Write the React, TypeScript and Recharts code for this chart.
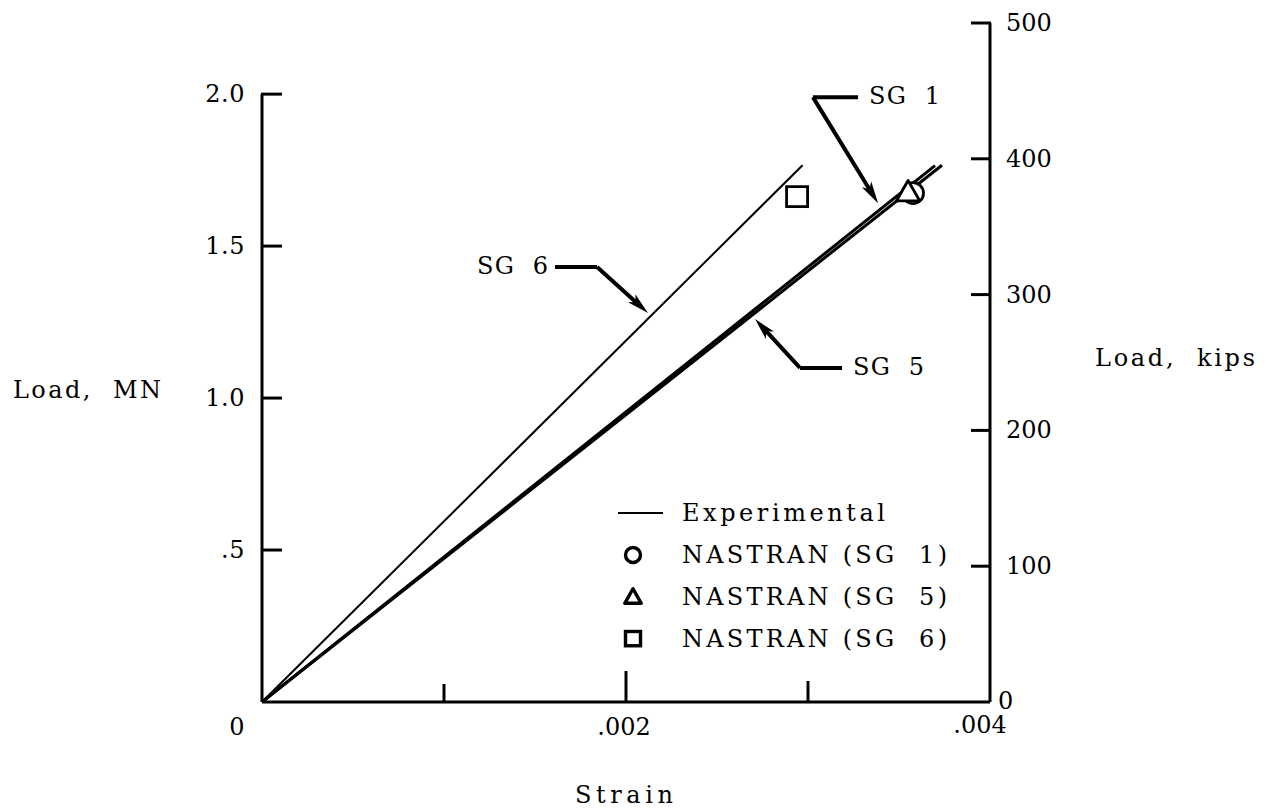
import React from 'react';
import { ComposedChart, Line, Scatter, XAxis, YAxis, ReferenceLine, Legend } from 'recharts';

const FONT = '"DejaVu Serif", "Liberation Serif", serif';
const INK = '#000';

// experimental strain gauge readings (strain, load in MN)
const sg1Strain = [0, 0.003736];
const sg1Load = [0, 1.766];
const sg5Strain = [0, 0.003698];
const sg5Load = [0, 1.7645];
const sg6Strain = [0, 0.00297];
const sg6Load = [0, 1.766];

// NASTRAN predictions
const nastranStrain = [0.003577, 0.00355, 0.00294];
const nastranLoad = [1.674, 1.678, 1.661];
const nastranNames = ['NASTRAN (SG 1)', 'NASTRAN (SG 5)', 'NASTRAN (SG 6)'];

// axes
const strainTicks = [0, 0.001, 0.002, 0.003, 0.004];
const strainTickText = ['0', '', '.002', '', '.004'];
const mnTicks = [0.5, 1.0, 1.5, 2.0];
const mnTickText = ['.5', '1.0', '1.5', '2.0'];
const kipsTicks = [0, 100, 200, 300, 400, 500];

// callouts: label, text end, corner, arrow tip (strain, MN)
const calloutLabels = ['SG 1', 'SG 6', 'SG 5'];
const calloutEnd = [[0.003275, 1.99], [0.00161, 1.431], [0.003187, 1.099]];
const calloutCorner = [[0.003027, 1.99], [0.001841, 1.431], [0.002956, 1.099]];
const calloutTip = [[0.003385, 1.641], [0.002121, 1.28], [0.002709, 1.26]];

const toRows = (xs: number[], ys: number[]) => xs.map((x, i) => ({ strain: x, load: ys[i] }));

const sg1Data = toRows(sg1Strain, sg1Load);
const sg5Data = toRows(sg5Strain, sg5Load);
const sg6Data = toRows(sg6Strain, sg6Load);
const nastranData = nastranStrain.map((x, i) => [{ strain: x, load: nastranLoad[i] }]);

const txt = { fontFamily: FONT, fontSize: 24, fill: INK } as const;

const XTick = (props: any) => {
  const { x, y, payload } = props;
  const i = strainTicks.indexOf(payload.value);
  const len = [0, 18, 31, 21, 0][i] ?? 0;
  const dx = [-25, 0, -2, 0, -10][i] ?? 0;
  return (
    <g>
      {len > 0 && <line x1={x} y1={y} x2={x} y2={y - len} stroke={INK} strokeWidth={3} />}
      {strainTickText[i] && (
        <text x={x + dx} y={y + (i === 4 ? 23 : 25)} textAnchor="middle" dominantBaseline="central" {...txt}>
          {strainTickText[i]}
        </text>
      )}
    </g>
  );
};

const MnTick = (props: any) => {
  const { x, y, payload } = props;
  const i = mnTicks.indexOf(payload.value);
  return (
    <g>
      <line x1={x - 1} y1={y} x2={x + 20} y2={y} stroke={INK} strokeWidth={3} />
      <text x={x - 17} y={y} textAnchor="end" dominantBaseline="central" {...txt} letterSpacing={0.5}>
        {mnTickText[i]}
      </text>
    </g>
  );
};

const KipsTick = (props: any) => {
  const { x, y, payload } = props;
  const v = payload.value;
  return (
    <g>
      {v > 0 && <line x1={x + 1} y1={y} x2={x - 19} y2={y} stroke={INK} strokeWidth={3} />}
      <text
        x={v === 0 ? x + 8 : x + 16}
        y={v === 0 ? y - 1 : y}
        textAnchor="start"
        dominantBaseline="central"
        {...txt}
      >
        {v}
      </text>
    </g>
  );
};

const Arrow = (props: any) => {
  const { x1, y1, x2, y2 } = props;
  const a = Math.atan2(y2 - y1, x2 - x1);
  const L = 22;
  const W = 5.5;
  const bx = x2 - L * Math.cos(a);
  const by = y2 - L * Math.sin(a);
  const nx = -Math.sin(a);
  const ny = Math.cos(a);
  const mx = x2 - L * 0.75 * Math.cos(a);
  const my = y2 - L * 0.75 * Math.sin(a);
  return (
    <g>
      <line x1={x1} y1={y1} x2={mx} y2={my} stroke={INK} strokeWidth={4} />
      <path
        d={`M${x2},${y2} L${bx + nx * W},${by + ny * W} L${mx},${my} L${bx - nx * W},${by - ny * W} Z`}
        fill={INK}
      />
    </g>
  );
};

const calloutStub = (label: string) => (props: any) => {
  const { x1, y1, x2, y2 } = props;
  const left = x2 < x1;
  return (
    <g>
      <line x1={x1} y1={y1} x2={x2} y2={y2} stroke={INK} strokeWidth={4} />
      <text
        x={left ? x2 - 7 : x2 + 11}
        y={y2 - 1}
        textAnchor={left ? 'end' : 'start'}
        dominantBaseline="central"
        {...txt}
        textLength={71}
        lengthAdjust="spacing"
        style={{ whiteSpace: 'pre' }}
      >
        {label}
      </text>
    </g>
  );
};

const markerShapes = ['circle', 'triangle', 'square'];

const Marker = ({ kind, cx, cy, s, sw }: { kind: string; cx: number; cy: number; s: number; sw: number }) => {
  if (kind === 'circle') return <circle cx={cx} cy={cy} r={s / 2} fill="#fff" stroke={INK} strokeWidth={sw} />;
  if (kind === 'triangle')
    return (
      <polygon
        points={`${cx},${cy - s * 0.55} ${cx - s * 0.55},${cy + s * 0.42} ${cx + s * 0.55},${cy + s * 0.42}`}
        fill="#fff"
        stroke={INK}
        strokeWidth={sw}
        strokeLinejoin="round"
      />
    );
  return <rect x={cx - s / 2} y={cy - s / 2} width={s} height={s * 0.95} fill="#fff" stroke={INK} strokeWidth={sw} />;
};

const LegendBox = () => (
  <svg width={360} height={175} style={{ display: 'block', overflow: 'visible' }}>
    <line x1={10} y1={23} x2={55} y2={23} stroke={INK} strokeWidth={2.2} />
    <text x={74} y={23} dominantBaseline="central" {...txt} textLength={203} lengthAdjust="spacing">
      Experimental
    </text>
    {nastranNames.map((name, i) => (
      <g key={name}>
        <Marker kind={markerShapes[i]} cx={25} cy={65 + i * 42} s={15} sw={3.4} />
        <text
          x={74}
          y={65 + i * 42}
          dominantBaseline="central"
          {...txt}
          textLength={265}
          lengthAdjust="spacing"
          style={{ whiteSpace: 'pre' }}
        >
          {name.replace('SG ', 'SG  ')}
        </text>
      </g>
    ))}
  </svg>
);

export default function App() {
  return (
    <ComposedChart width={1259} height={800} margin={{ top: 15, right: 217, bottom: 66, left: 200 }}>
      <XAxis
        type="number"
        dataKey="strain"
        domain={[0, 0.004]}
        ticks={strainTicks}
        interval={0}
        allowDataOverflow
        height={40}
        tickSize={0}
        tickMargin={0}
        tickLine={false}
        axisLine={{ stroke: INK, strokeWidth: 3 }}
        tick={XTick}
      />
      <YAxis
        yAxisId="mn"
        type="number"
        dataKey="load"
        domain={[0, 2.234]}
        ticks={mnTicks}
        interval={0}
        allowDataOverflow
        width={54}
        tickSize={0}
        tickMargin={0}
        tickLine={false}
        axisLine={false}
        tick={MnTick}
      />
      <YAxis
        yAxisId="kips"
        orientation="right"
        type="number"
        domain={[0, 500]}
        ticks={kipsTicks}
        interval={0}
        allowDataOverflow
        width={60}
        tickSize={0}
        tickMargin={0}
        tickLine={false}
        axisLine={{ stroke: INK, strokeWidth: 3 }}
        tick={KipsTick}
      />

      {/* left axis only runs up to 2.0 MN */}
      <ReferenceLine
        yAxisId="mn"
        segment={[{ x: 0, y: 0 }, { x: 0, y: 2.0 }]}
        stroke={INK}
        strokeWidth={3}
        ifOverflow="visible"
      />

      <Line data={sg6Data} yAxisId="mn" dataKey="load" type="linear" stroke={INK} strokeWidth={2} dot={false} activeDot={false} isAnimationActive={false} />
      <Line data={sg5Data} yAxisId="mn" dataKey="load" type="linear" stroke={INK} strokeWidth={3} dot={false} activeDot={false} isAnimationActive={false} />
      <Line data={sg1Data} yAxisId="mn" dataKey="load" type="linear" stroke={INK} strokeWidth={3} dot={false} activeDot={false} isAnimationActive={false} />

      {nastranData.map((d, i) => (
        <Scatter
          key={nastranNames[i]}
          name={nastranNames[i]}
          data={d}
          yAxisId="mn"
          dataKey="load"
          isAnimationActive={false}
          shape={(p: any) => <Marker kind={markerShapes[i]} cx={p.cx} cy={p.cy} s={21} sw={2.8} />}
        />
      ))}

      {calloutLabels.map((label, i) => (
        <ReferenceLine
          key={label + '-stub'}
          yAxisId="mn"
          segment={[
            { x: calloutCorner[i][0], y: calloutCorner[i][1] },
            { x: calloutEnd[i][0], y: calloutEnd[i][1] },
          ]}
          ifOverflow="visible"
          shape={calloutStub(label.replace(' ', '  '))}
        />
      ))}
      {calloutLabels.map((label, i) => (
        <ReferenceLine
          key={label + '-arrow'}
          yAxisId="mn"
          segment={[
            { x: calloutCorner[i][0], y: calloutCorner[i][1] },
            { x: calloutTip[i][0], y: calloutTip[i][1] },
          ]}
          ifOverflow="visible"
          shape={Arrow}
        />
      ))}

      <Legend
        layout="vertical"
        align="center"
        verticalAlign="middle"
        content={LegendBox}
        wrapperStyle={{ position: 'absolute', left: 600, top: 482, width: 360, height: 175 }}
      />

      <text x={5} y={382} dominantBaseline="central" {...txt} textLength={148} lengthAdjust="spacing" style={{ whiteSpace: 'pre' }}>
        {'Load,  MN'}
      </text>
      <text x={1087} y={350} dominantBaseline="central" {...txt} textLength={160} lengthAdjust="spacing" style={{ whiteSpace: 'pre' }}>
        {'Load,  kips'}
      </text>
      <text x={567} y={787} dominantBaseline="central" {...txt} textLength={98} lengthAdjust="spacing">
        Strain
      </text>
    </ComposedChart>
  );
}
